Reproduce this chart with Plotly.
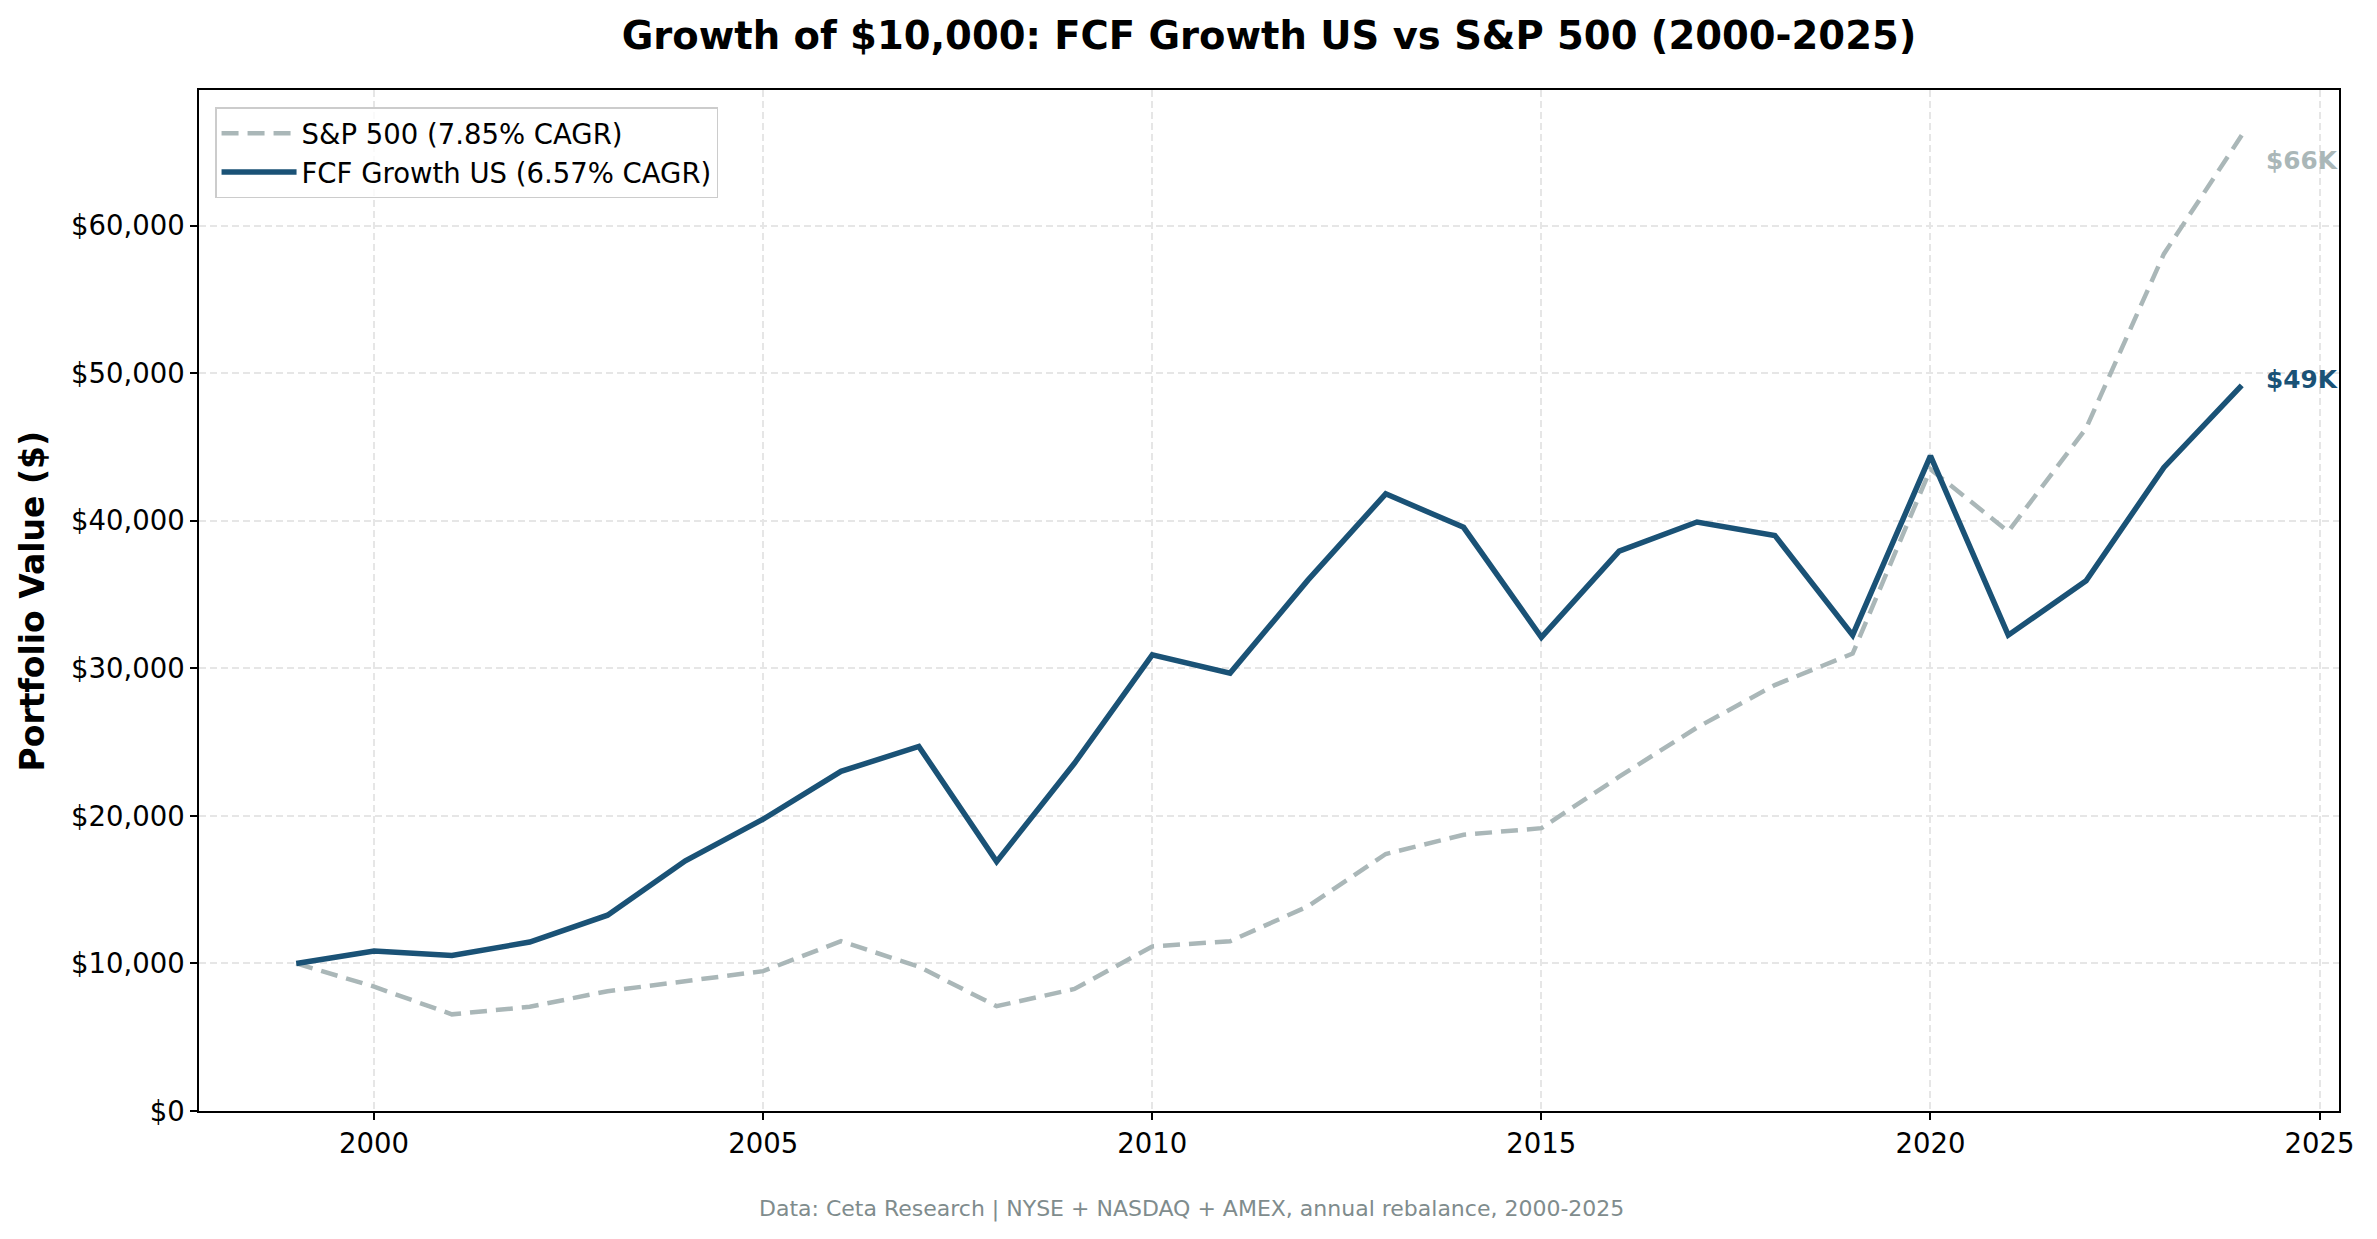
import plotly.graph_objects as go

years = list(range(1999, 2025))

fcf_growth = [10000, 10850, 10540, 11450, 13270, 16960, 19780, 23020, 24710, 16900,
              23570, 30920, 29680, 35980, 41830, 39560, 32110, 37950, 39920, 39010,
              32250, 44400, 32250, 35940, 43620, 49180]

sp500 = [10000, 8430, 6550, 7060, 8120, 8790, 9480, 11510, 9780, 7100,
         8270, 11150, 11510, 13870, 17420, 18720, 19170, 22660, 25990, 28870,
         31000, 43500, 39270, 46270, 58090, 66130]

fcf_name = "FCF Growth US (6.57% CAGR)"
sp_name = "S&P 500 (7.85% CAGR)"
end_labels = ["$66K", "$49K"]
x_ticks = [2000, 2005, 2010, 2015, 2020, 2025]
y_ticks = [0, 10000, 20000, 30000, 40000, 50000, 60000]

fcf_color = "#1a5276"
sp_color = "#aab7b8"
font = "DejaVu Sans"

# page body has an 8px margin, so the figure is drawn 8px smaller
W, H = 2369, 1231

fig = go.Figure()
fig.add_trace(go.Scatter(x=years, y=sp500, mode="lines", name=sp_name,
                         line=dict(color=sp_color, width=4.5, dash="17px,9px")))
fig.add_trace(go.Scatter(x=years, y=fcf_growth, mode="lines", name=fcf_name,
                         line=dict(color=fcf_color, width=5.5)))

# end value labels
fig.add_annotation(x=years[-1], y=sp500[-1], text="<b>" + end_labels[0] + "</b>",
                   showarrow=False, xanchor="left", yanchor="middle", xshift=22, yshift=-25,
                   font=dict(family=font, size=24.75, color=sp_color))
fig.add_annotation(x=years[-1], y=fcf_growth[-1], text="<b>" + end_labels[1] + "</b>",
                   showarrow=False, xanchor="left", yanchor="middle", xshift=22, yshift=6,
                   font=dict(family=font, size=24.75, color=fcf_color))

# y title and footer
fig.add_annotation(x=-0.0776, y=0.5, xref="paper", yref="paper", text="<b>Portfolio Value ($)</b>",
                   textangle=-90, showarrow=False, xanchor="center", yanchor="middle",
                   font=dict(family=font, size=33, color="black"))
fig.add_annotation(x=0.464, y=-0.096, xref="paper", yref="paper",
                   text="Data: Ceta Research | NYSE + NASDAQ + AMEX, annual rebalance, 2000-2025",
                   showarrow=False, xanchor="center", yanchor="middle",
                   font=dict(family=font, size=22, color="#7f8c8d"))

fig.update_layout(
    width=W, height=H,
    margin=dict(l=191, r=38, t=82, b=128),
    paper_bgcolor="white", plot_bgcolor="white",
    font=dict(family=font, size=27.5, color="black"),
    title=dict(text="<b>Growth of $10,000: FCF Growth US vs S&P 500 (2000-2025)</b>",
               x=0.5, xref="paper", xanchor="center", y=1 - 28 / H, yref="container",
               yanchor="middle", font=dict(family=font, size=38.5, color="black")),
    legend=dict(x=0.0075, y=0.983, xanchor="left", yanchor="top",
                bgcolor="rgba(255,255,255,0.8)", bordercolor="#cccccc", borderwidth=1.5,
                font=dict(family=font, size=27.5), traceorder="normal", itemwidth=75),
    showlegend=True,
)

fig.update_xaxes(range=[1997.75, 2025.25], tickmode="array", tickvals=x_ticks,
                 ticktext=[str(t) for t in x_ticks],
                 showline=True, mirror=True, linecolor="black", linewidth=1.5,
                 ticks="outside", ticklen=7, tickwidth=1.5, tickcolor="black",
                 showgrid=True, gridcolor="#e6e6e6", gridwidth=1.5, griddash="7px,4px",
                 zeroline=False, tickfont=dict(family=font, size=27.5))
fig.update_yaxes(range=[0, 69200], tickmode="array", tickvals=y_ticks,
                 ticktext=[f"${v:,}" for v in y_ticks],
                 showline=True, mirror=True, linecolor="black", linewidth=1.5,
                 ticks="outside", ticklen=7, tickwidth=1.5, tickcolor="black",
                 showgrid=True, gridcolor="#e6e6e6", gridwidth=1.5, griddash="7px,4px",
                 zeroline=False, tickfont=dict(family=font, size=27.5))

fig.write_html("out.html")
